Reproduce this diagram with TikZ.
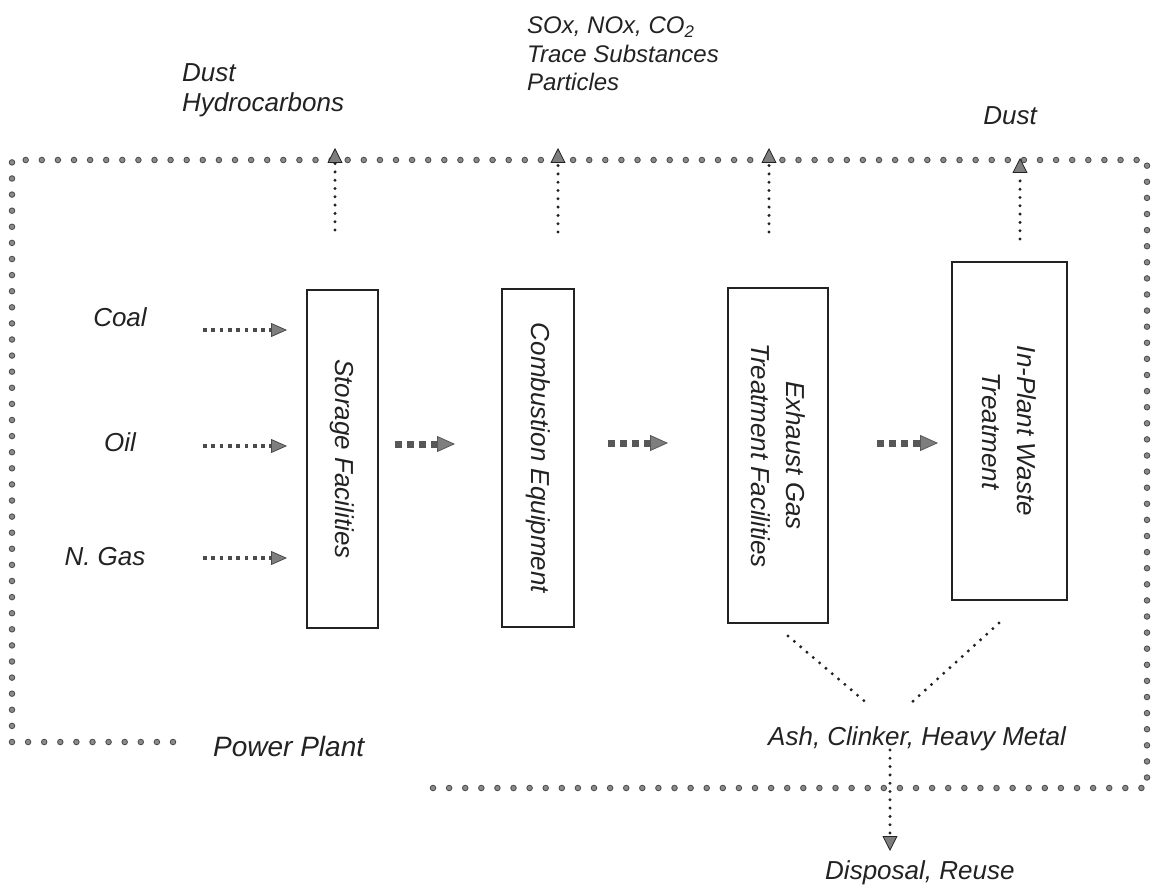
\documentclass[tikz,border=0pt]{standalone}
\usepackage{fontspec}
\setmainfont{Liberation Sans}
\usetikzlibrary{arrows.meta}
\definecolor{dotfill}{HTML}{8A8A8A}
\definecolor{dotedge}{HTML}{4A4A4A}
\definecolor{inkdark}{HTML}{222222}
\definecolor{tipfill}{HTML}{7E7E7E}
\begin{document}
\begin{tikzpicture}[x=1pt,y=-1pt,
  lbl/.style={font=\itshape\fontsize{26}{30}\selectfont, inner sep=0pt, text=inkdark},
  box/.style={draw=inkdark, line width=1.8pt, rotate=-90, align=center, inner sep=0pt,
    font=\itshape\fontsize{26}{35}\selectfont, text=inkdark},
  boundary/.style={preaction={draw=dotedge, line width=6.5pt, dash pattern=on 0pt off 16.1pt, line cap=round},
    draw=dotfill, line width=4.4pt, dash pattern=on 0pt off 16.1pt, line cap=round},
  smalldots/.style={draw=inkdark, line width=3.3pt, dash pattern=on 0pt off 8.3pt, line cap=round},
  uptip/.style={-{Triangle[length=15pt,width=15pt,line width=0.8pt,fill=tipfill]}},
  inarrow/.style={draw=dotedge, line width=3.8pt, dash pattern=on 3.8pt off 4.5pt, line cap=butt,
    -{Triangle[length=16pt,width=14pt,line width=0.8pt,fill=tipfill]}},
  midarrow/.style={draw=dotedge!80!dotfill, line width=7pt, dash pattern=on 7pt off 5pt, line cap=butt,
    -{Triangle[length=18pt,width=16pt,line width=0.8pt,fill=tipfill]}}
]
\useasboundingbox (0,0) rectangle (1153,885);

% power plant boundary
\draw[boundary] (173,742) -- (12,742) -- (12,160) -- (1147,160) -- (1147,788) -- (420,788);

% boxes
\node[box, minimum width=338pt, minimum height=71pt] (stor) at (342.5,459) {Storage Facilities};
\node[box, minimum width=338pt, minimum height=72pt] (comb) at (538,458) {Combustion Equipment};
\node[box, minimum width=335pt, minimum height=100pt] (exh) at (778,455.5) {Exhaust Gas\\Treatment Facilities};
\node[box, minimum width=338pt, minimum height=115pt] (waste) at (1009.5,431) {In-Plant Waste\\Treatment};

% fuel labels
\node[lbl] (coal) at (120,317) {Coal};
\node[lbl] (oil) at (120,442) {Oil};
\node[lbl] (gas) at (105,557) {N. Gas};

% emission labels
\node[lbl, anchor=north west, align=left] (em1) at (182,63) {Dust\\Hydrocarbons};
\node[lbl, anchor=north west, align=left, font=\itshape\fontsize{24}{28.5}\selectfont] (em2) at (527,17) {SOx, NOx, CO\textsubscript{2}\\Trace Substances\\Particles};
\node[lbl, anchor=base east] (em4) at (1037,125) {Dust};

\node[lbl, anchor=base west, font=\itshape\fontsize{28}{32}\selectfont] (pp) at (213,756) {Power Plant};
\node[lbl, anchor=base west] (ash) at (768,745) {Ash, Clinker, Heavy Metal};
\node[lbl, anchor=base west] (disp) at (825,879) {Disposal, Reuse};

% connector end points
\coordinate (c1) at (203,330); \coordinate (c2) at (287,330);
\coordinate (o1) at (203,446); \coordinate (o2) at (287,446);
\coordinate (g1) at (203,558); \coordinate (g2) at (287,558);
\coordinate (m1a) at (395,444); \coordinate (m1b) at (455,444);
\coordinate (m2a) at (608,443); \coordinate (m2b) at (668,443);
\coordinate (m3a) at (877,443); \coordinate (m3b) at (938,443);
\coordinate (u1a) at (335,230); \coordinate (u1b) at (335,148);
\coordinate (u2a) at (558,232); \coordinate (u2b) at (558,148);
\coordinate (u3a) at (769,232); \coordinate (u3b) at (769,148);
\coordinate (u4a) at (1020,239); \coordinate (u4b) at (1020,158);
\coordinate (d1a) at (788,636); \coordinate (d1b) at (869,705);
\coordinate (d2a) at (999,623); \coordinate (d2b) at (910,704);
\coordinate (da) at (890,750); \coordinate (db) at (890,851);

% input arrows
\draw[inarrow] (c1) -- (c2);
\draw[inarrow] (o1) -- (o2);
\draw[inarrow] (g1) -- (g2);

% process arrows
\draw[midarrow] (m1a) -- (m1b);
\draw[midarrow] (m2a) -- (m2b);
\draw[midarrow] (m3a) -- (m3b);

% emissions
\draw[smalldots, uptip] (u1a) -- (u1b);
\draw[smalldots, uptip] (u2a) -- (u2b);
\draw[smalldots, uptip] (u3a) -- (u3b);
\draw[smalldots, uptip] (u4a) -- (u4b);

% residues
\draw[smalldots] (d1a) -- (d1b);
\draw[smalldots] (d2a) -- (d2b);
\draw[smalldots, uptip] (da) -- (db);
\end{tikzpicture}
\end{document}
